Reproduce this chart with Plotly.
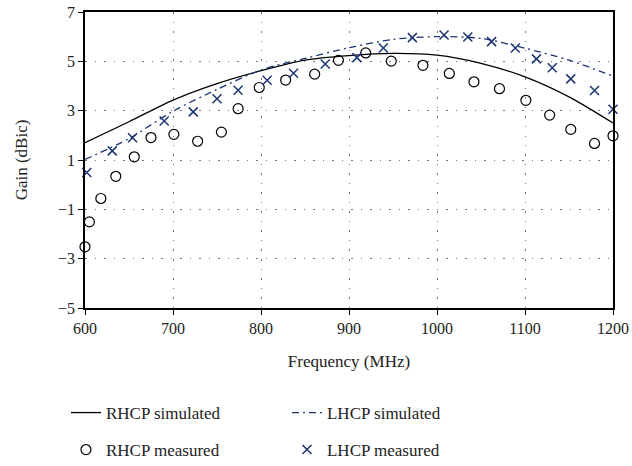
import plotly.graph_objects as go

sim_freq = [600, 650, 700, 750, 800, 850, 900, 950, 1000, 1050, 1100, 1150, 1200]
rhcp_sim = [1.7, 2.55, 3.43, 4.1, 4.62, 5.05, 5.23, 5.32, 5.25, 4.92, 4.37, 3.56, 2.5]
lhcp_sim = [1.02, 1.87, 2.98, 3.86, 4.65, 5.12, 5.55, 5.89, 6.0, 5.93, 5.53, 5.05, 4.4]

rhcp_meas_freq = [600, 605, 618, 635, 656, 675, 701, 728, 755, 774, 798, 828, 861,
                  888, 919, 948, 984, 1014, 1042, 1071, 1101, 1128, 1152, 1179, 1200]
rhcp_meas = [-2.52, -1.51, -0.56, 0.34, 1.13, 1.91, 2.04, 1.76, 2.13, 3.08, 3.94, 4.24, 4.48,
             5.04, 5.34, 5.01, 4.84, 4.51, 4.17, 3.89, 3.42, 2.82, 2.24, 1.67, 1.98]

lhcp_meas_freq = [602, 631, 654, 690, 723, 750, 774, 807, 837, 873, 909, 939, 972,
                  1008, 1035, 1062, 1089, 1113, 1131, 1152, 1179, 1200]
lhcp_meas = [0.49, 1.37, 1.9, 2.58, 2.95, 3.48, 3.83, 4.23, 4.52, 4.89, 5.15, 5.54, 5.96,
             6.07, 5.99, 5.8, 5.54, 5.1, 4.74, 4.29, 3.82, 3.06]

x_ticks = [600, 700, 800, 900, 1000, 1100, 1200]
y_ticks = [-5, -3, -1, 1, 3, 5, 7]

navy = "#1c3571"
txt = "#222222"
font_family = "Liberation Serif, Times New Roman, serif"

fig = go.Figure()
fig.add_trace(go.Scatter(x=sim_freq, y=rhcp_sim, mode="lines", name="RHCP simulated",
                         legend="legend",
                         line=dict(color="black", width=1.3, shape="spline", smoothing=0.8)))
fig.add_trace(go.Scatter(x=sim_freq, y=lhcp_sim, mode="lines", name="LHCP simulated",
                         legend="legend",
                         line=dict(color=navy, width=1.3, shape="spline", smoothing=0.8,
                                   dash="7px,4px,2px,4px")))
fig.add_trace(go.Scatter(x=rhcp_meas_freq, y=rhcp_meas, mode="markers", name="RHCP measured",
                         legend="legend2",
                         marker=dict(symbol="circle-open", size=10, color="black",
                                     line=dict(width=1.2, color="black")),
                         cliponaxis=False))
fig.add_trace(go.Scatter(x=lhcp_meas_freq, y=lhcp_meas, mode="markers", name="LHCP measured",
                         legend="legend2",
                         marker=dict(symbol="x-thin-open", size=9, color=navy,
                                     line=dict(width=1.5, color=navy)),
                         cliponaxis=False))

axis_common = dict(showline=True, linecolor="black", linewidth=1.5, mirror=True,
                   ticks="outside", ticklen=5, tickcolor="black",
                   showgrid=True, gridcolor="#777777", griddash="1.5px,8px", gridwidth=1,
                   zeroline=False, automargin=False,
                   tickfont=dict(family=font_family, size=16, color=txt))

fig.update_xaxes(range=[600, 1200], tickvals=x_ticks, ticktext=[str(v) for v in x_ticks],
                 title=dict(text="Frequency (MHz)", font=dict(family=font_family, size=17, color=txt),
                            standoff=19),
                 **axis_common)
fig.update_yaxes(range=[-5, 7], tickvals=y_ticks,
                 ticktext=[str(v).replace("-", "\u2212") for v in y_ticks],
                 title=dict(text="Gain (dBic)", font=dict(family=font_family, size=17, color=txt),
                            standoff=26),
                 **axis_common)

legend_common = dict(orientation="h", xanchor="left", yanchor="middle",
                     xref="container", yref="container",
                     entrywidth=176, entrywidthmode="pixels",
                     font=dict(family=font_family, size=17, color=txt),
                     bgcolor="rgba(0,0,0,0)")

fig.update_layout(
    width=632, height=466,
    margin=dict(l=85, r=19, t=12, b=158, autoexpand=False),
    paper_bgcolor="white", plot_bgcolor="white",
    font=dict(family=font_family, size=16, color=txt),
    legend=dict(x=0.1044, y=0.1137, **legend_common),
    legend2=dict(x=0.1044, y=0.0343, **legend_common),
)

fig.write_html("out.html", config={"displayModeBar": False},
               post_script="document.body.style.margin='0';")
